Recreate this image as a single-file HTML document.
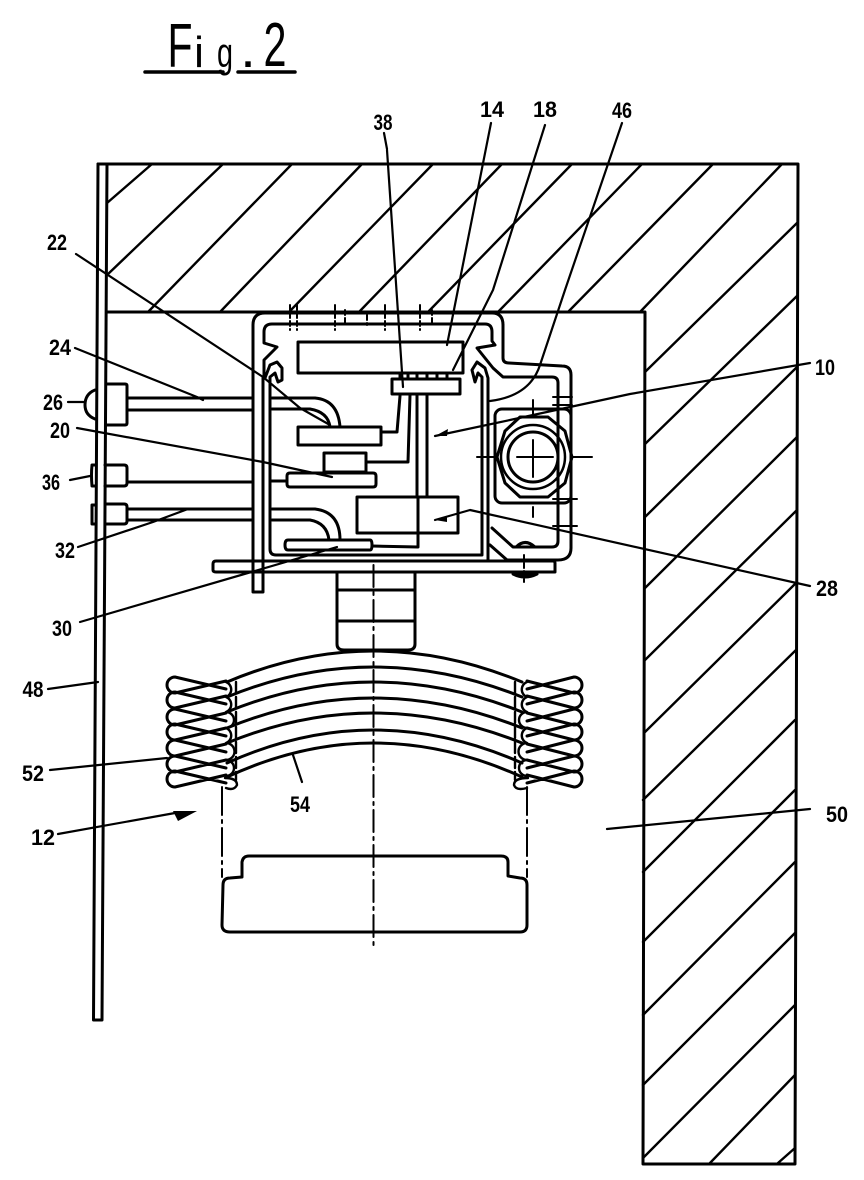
<!DOCTYPE html>
<html><head><meta charset="utf-8"><style>
html,body{margin:0;padding:0;background:#fff}
svg{display:block}
text{font-family:"Liberation Sans",sans-serif;font-weight:bold;fill:#000;text-anchor:middle}
</style></head><body>
<svg width="864" height="1180" viewBox="0 0 864 1180" xmlns="http://www.w3.org/2000/svg">
<rect width="864" height="1180" fill="#fff"/>
<g fill="none" stroke="#000" stroke-linecap="round" stroke-linejoin="round">
<!-- hatch -->
<path stroke-width="2.4" d="M152,164L107,203M223,164L107,275M292,164L148,312M362,164L220,312M433,164L289,312M502,164L359,312M572,164L428,312M642,164L498,312M713,164L568,312M782,164L640,312
M797,223L645,372M797,296L645,444M797,367L645,517M797,437L645,588M797,510L645,660M797,582L645,732M796,650L643,800M795,720L643,872M795,790L643,942M795,862L643,1015M795,933L643,1085M795,1005L643,1158M795,1075L710,1163M795,1148L778,1163"/>
<!-- frame -->
<path stroke-width="3" d="M98,164H798L795,1164H643L645,312H107"/>
<path stroke-width="3" d="M98,164L93.5,1020H102L107,164"/>
<!-- leaders -->
<path stroke-width="2.200" d="M384,133L387,149M387,150L403,387M491,123L447,345M545,125L493,290L453,370M622,123L565,290L540,365Q530,396 490,401M76,254L263,377L300,408L330,425M75,348L197,397L203,400M68,402H85M77,428L263,462L332,477M70,480L90,476M78,547L153,522L188,509M80,622L337,547M810,363L630,394L510,420L435,436M810,586L470,510L435,520M607,829L810,809M48,689L98,682M50,770L167,758M58,834L175,813M293,755L302,782"/>
<path fill="#000" stroke="none" d="M197,811L173,811L178,821Z M435,436L448,429L447,436Z M435,520L447,516L447,522Z"/>
<!-- housing -->
<path stroke-width="3" d="M503,325Q503,313 492,313H265Q253,313 253,325V592H263V378"/>
<path stroke-width="3" d="M264,378V360L277,347L264,343V332Q264,324 272,324H485Q492,324 492,332V341L495,345L477,348L493,368L503,377H552Q558,377 558,383V541Q558,547 552,547H513L492,528"/>
<path stroke-width="3" d="M503,325V358Q503,363 509,363L562,366Q571,366 571,375V548Q571,560 558,560H507L490,545"/>
<path stroke-width="3" d="M265,378L270,365L277,362L282,368V380L278,382L275,373L270,377V549Q270,555 276,555H482V377L478,373L475,382L472,370L477,362L485,368L488,378V560"/>
<!-- plate -->
<path stroke-width="3" d="M216,561H553Q555,561 555,563V572H216Q213,572 213,570V564Q213,561 216,561Z"/>
<path stroke-width="2" d="M251,561H263M251,572H263"/>
<path stroke-width="3" fill="#000" d="M513,574Q525,580 537,574Z"/>
<path stroke-width="3" d="M516,547Q525,538 535,547Z"/>
<!-- inner parts -->
<path stroke-width="3" d="M298,342H463V373H298Z M392,379H460V394H392Z M298,427H381V445H298Z M324,453H366V472H324Z M357,497H458V533H357Z"/>
<path stroke-width="3" d="M290,473H373Q376,473 376,476V484Q376,487 373,487H290Q287,487 287,484V476Q287,473 290,473Z"/>
<path stroke-width="3" d="M288,540H370Q372,540 372,545Q372,550 370,550H288Q285,550 285,545Q285,540 288,540Z"/>
<path stroke-width="3" d="M400,373V379M408,373V379M417,373V379M427,373V379M437,373V379M447,373V379M417,394V497M427,394V497M381,432H397L400,396M366,462H408L410,395M418,497V547L372,546M270,481H287"/>
<path stroke-width="3" d="M272,398H315Q338,400 340,427M272,409H310Q328,412 330,427M272,509H315Q340,512 340,540M272,520H310Q327,523 329,540"/>
<!-- connectors -->
<path stroke-width="3" d="M106,384H125Q127,384 127,386V423Q127,425 125,425H106M127,398H252M127,410H252M95,390Q85,394 85,405Q85,415 95,419"/>
<path stroke-width="3" d="M105,465H124Q127,465 127,468V483Q127,486 124,486H105M127,482H252M95,465H92Q91,475 92,486H95"/>
<path stroke-width="3" d="M105,504H124Q127,504 127,507V521Q127,524 124,524H105M127,509H252M127,520H252M95,505H92V524H95"/>
<!-- screw -->
<rect x="495" y="409" width="76" height="94" rx="7" stroke-width="3"/>
<circle cx="533" cy="457" r="25" stroke-width="3"/>
<circle cx="533" cy="457" r="32" stroke-width="2.5"/>
<path stroke-width="3" d="M505,431L520,417H548L565,431L572,457L565,483L548,497H520L505,483L497,457Z"/>
<path stroke-width="2" d="M517,457H553M533,440V477M477,457H497M573,457H592M533,400V415M533,507V517M553,405H572M553,397H572M553,499H577M553,526H577"/>
<path stroke-width="2" stroke-dasharray="5 3" d="M290,305V330M297,305V330M335,305V330M345,310V325M367,315V325M385,305V330M420,305V330M432,310V325M524,555V582"/>
<!-- neck -->
<path stroke-width="3" d="M337,573V644Q337,650 344,650H408Q415,650 415,644V573M337,590H415M337,621H415"/>
<!-- centre lines -->
<path stroke-width="2" stroke-dasharray="22 5 3 5" d="M373.500,565V945"/>
<path stroke-width="2" stroke-dasharray="28 5 3 5" d="M222,787V877M527,787V877"/>
<!-- leaves -->
<path stroke-width="3" d="M227,682Q373,620 522,682M227,697Q373,637 522,697M227,712Q373,652 522,712M227,728Q373,668 522,728M227,743Q373,683 522,743M227,763Q373,697 522,763M227,777Q373,709 522,777"/>
<!-- spring left -->
<path stroke-width="3" d="M226,689L175,677A8,8 0 0 0 175,693L226,681M226,704L175,692A8,8 0 0 0 175,708L226,696M226,721L175,709A8,8 0 0 0 175,725L226,713M226,736L175,724A8,8 0 0 0 175,740L226,728M226,752L175,740A8,8 0 0 0 175,756L226,744M226,768L175,756A8,8 0 0 0 175,772L226,760M226,783L175,771A8,8 0 0 0 175,787L226,775"/>
<path stroke-width="3" d="M527,689L574,677A8,8 0 0 1 574,693L527,681M527,704L574,692A8,8 0 0 1 574,708L527,696M527,721L574,709A8,8 0 0 1 574,725L527,713M527,736L574,724A8,8 0 0 1 574,740L527,728M527,752L574,740A8,8 0 0 1 574,756L527,744M527,768L574,756A8,8 0 0 1 574,772L527,760M527,783L574,771A8,8 0 0 1 574,787L527,775"/>
<path stroke-width="2.400" d="M226,682A8,8 0 0 1 226,697A8,8 0 0 1 226,712A8,8 0 0 1 226,728A8,8 0 0 1 226,743A8,8 0 0 1 226,760A8,8 0 0 1 226,776M225,778Q237,778 237,785Q234,791 226,788"/>
<path stroke-width="2.400" d="M527,682A8,8 0 0 0 527,697A8,8 0 0 0 527,712A8,8 0 0 0 527,728A8,8 0 0 0 527,743A8,8 0 0 0 527,760A8,8 0 0 0 527,776M528,778Q514,778 514,785Q516,791 527,788"/>
<path stroke-width="2.400" stroke-dasharray="11 4" d="M236,682V780M515,682V780"/>
<!-- shoe -->
<path stroke-width="3" d="M223,885Q223,878 230,878L242,877V862Q243,856 249,856H501Q508,856 508,862V876L520,878Q527,878 527,885V925Q527,932 520,932H230Q222,932 222,925Z"/>
<!-- title underline -->
<path stroke-width="3.500" d="M145,72H223M238,72H295"/>
</g>
<!-- title -->
<g>
<text x="180" y="67" font-size="62" textLength="25" lengthAdjust="spacingAndGlyphs" style="font-weight:normal">F</text>
<text x="199" y="67" font-size="44" style="font-weight:normal">i</text>
<text x="225" y="67" font-size="42" textLength="16" lengthAdjust="spacingAndGlyphs" style="font-weight:normal">g</text>
<text x="248" y="67" font-size="38">.</text>
<text x="275" y="66" font-size="62" textLength="23" lengthAdjust="spacingAndGlyphs" style="font-weight:normal">2</text>
</g>
<!-- labels -->
<g font-size="22">
<text x="383" y="130" textLength="19" lengthAdjust="spacingAndGlyphs">38</text>
<text x="492" y="117" textLength="24" lengthAdjust="spacingAndGlyphs">14</text>
<text x="545" y="117" textLength="24" lengthAdjust="spacingAndGlyphs">18</text>
<text x="622" y="118" textLength="20" lengthAdjust="spacingAndGlyphs">46</text>
<text x="57" y="250" textLength="20" lengthAdjust="spacingAndGlyphs">22</text>
<text x="60" y="355" textLength="22" lengthAdjust="spacingAndGlyphs">24</text>
<text x="53" y="410" textLength="20" lengthAdjust="spacingAndGlyphs">26</text>
<text x="60" y="438" textLength="20" lengthAdjust="spacingAndGlyphs">20</text>
<text x="51" y="490" textLength="18" lengthAdjust="spacingAndGlyphs">36</text>
<text x="65" y="558" textLength="20" lengthAdjust="spacingAndGlyphs">32</text>
<text x="62" y="636" textLength="20" lengthAdjust="spacingAndGlyphs">30</text>
<text x="33" y="697" textLength="21" lengthAdjust="spacingAndGlyphs">48</text>
<text x="33" y="781" textLength="22" lengthAdjust="spacingAndGlyphs">52</text>
<text x="43" y="845" textLength="24" lengthAdjust="spacingAndGlyphs">12</text>
<text x="300" y="812" textLength="20" lengthAdjust="spacingAndGlyphs">54</text>
<text x="825" y="375" textLength="20" lengthAdjust="spacingAndGlyphs">10</text>
<text x="827" y="596" textLength="22" lengthAdjust="spacingAndGlyphs">28</text>
<text x="837" y="822" textLength="22" lengthAdjust="spacingAndGlyphs">50</text>
</g>
</svg>
</body></html>
